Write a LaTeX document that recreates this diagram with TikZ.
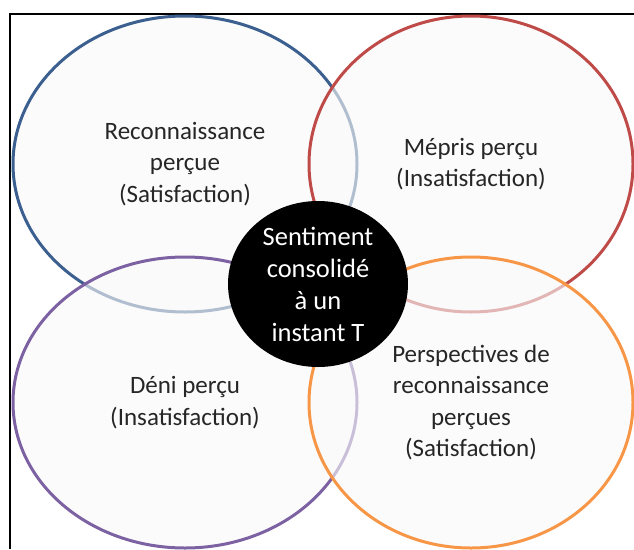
\documentclass[tikz,border=0pt]{standalone}
\usepackage{fontspec}
\setmainfont{Carlito}
\usetikzlibrary{shapes.geometric}
\definecolor{cblue}{HTML}{3B5F8E}
\definecolor{cred}{HTML}{BE4B48}
\definecolor{cpurple}{HTML}{7D62A3}
\definecolor{corange}{HTML}{F79646}
\definecolor{ctext}{HTML}{262626}
\definecolor{cfill}{HTML}{F9F9F9}
\tikzset{
  petal/.style={ellipse, draw, line width=3pt, fill=cfill, fill opacity=0.62,
    text opacity=1, draw opacity=1, inner sep=0pt, align=center, text=ctext,
    font=\fontsize{25}{31.5}\selectfont},
  core/.style={ellipse, fill=black, inner sep=0pt, align=center, text=white,
    font=\fontsize{26.5}{32}\selectfont},
  frameline/.style={line width=2pt, black}
}
\begin{document}
\begin{tikzpicture}[x=1pt,y=-1pt]
\useasboundingbox (0,0) rectangle (634,549);
\coordinate (fb) at (10,549);
\coordinate (fc) at (10,14);
\coordinate (fr) at (634,14);
\draw[frameline] (fb) -- (fc) -- (fr);
\node[petal, draw=cblue, minimum width=344pt, minimum height=296pt] (rec) at (185,164)
  {Reconnaissance\\perçue\\(Satisfaction)};
\node[petal, draw=cred, minimum width=324pt, minimum height=296pt] (mep) at (471,164)
  {Mépris perçu\\(Insatisfaction)};
\node[petal, draw=cpurple, minimum width=344pt, minimum height=291pt] (den) at (185,402.5)
  {Déni perçu\\(Insatisfaction)};
\node[petal, draw=corange, minimum width=324pt, minimum height=291pt] (per) at (471,402.5)
  {Perspectives de\\reconnaissance\\perçues\\(Satisfaction)};
\node[core, minimum width=180pt, minimum height=166pt] (sen) at (318,284)
  {Sentiment\\consolidé\\à un\\instant T};
\end{tikzpicture}
\end{document}
